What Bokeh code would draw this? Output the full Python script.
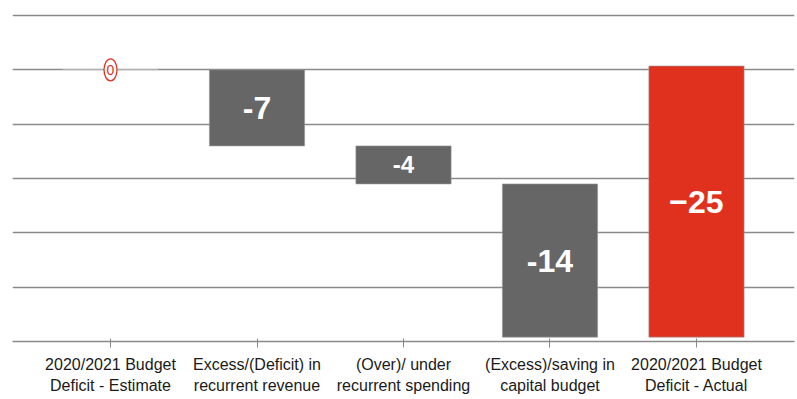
from bokeh.plotting import figure
from bokeh.models import ColumnDataSource, FixedTicker
from bokeh.core.properties import value
from bokeh.embed import file_html
from bokeh.resources import INLINE

categories = [
    "2020/2021 Budget\nDeficit - Estimate",
    "Excess/(Deficit) in\nrecurrent revenue",
    "(Over)/ under\nrecurrent spending",
    "(Excess)/saving in\ncapital budget",
    "2020/2021 Budget\nDeficit - Actual",
]
bar_top = [0, 0, -7, -10.5, 0.35]
bar_bottom = [0, -7, -10.5, -24.6, -24.6]
bar_labels = ["0", "-7", "-4", "-14", "\u221225"]

GRAY = "#666666"
RED = "#E0311F"
FONT = "Liberation Sans"
colors = [None, GRAY, GRAY, GRAY, RED]
label_sizes = ["32px", "32px", "24px", "32px", "32px"]

xs = list(range(len(categories)))

p = figure(width=797, height=399, output_backend="svg", toolbar_location=None,
           x_range=(-0.669, len(categories) - 1 + 0.669), y_range=(-25, 6.38),
           min_border_left=12, min_border_right=3, min_border_top=0,
           min_border_bottom=58)
p.outline_line_color = None
p.yaxis.visible = False
p.xgrid.visible = False
p.ygrid.ticker = FixedTicker(ticks=[5, 0, -5, -10, -15, -20])
p.ygrid.grid_line_color = "#8a8a8a"
p.ygrid.grid_line_width = 1.5

ax = p.xaxis[0]
ax.ticker = FixedTicker(ticks=xs)
ax.major_label_overrides = {i: c for i, c in enumerate(categories)}
ax.major_label_text_font = FONT
ax.major_label_text_font_size = "16px"
ax.major_label_text_color = "#1a1a1a"
ax.major_label_text_line_height = 1.25
ax.major_label_standoff = 8
ax.axis_line_color = "#8a8a8a"
ax.axis_line_width = 1.5
ax.major_tick_line_color = "#8a8a8a"
ax.major_tick_in = 3
ax.major_tick_out = 6
ax.minor_tick_line_color = None

# zero-height first bar
p.segment(x0=[xs[0] - 0.325], x1=[xs[0] + 0.325], y0=[bar_top[0]], y1=[bar_top[0]],
          line_color="#c8c8c8", line_width=1)

bx = xs[1:]
src = ColumnDataSource(dict(x=bx, top=bar_top[1:], bottom=bar_bottom[1:],
                            color=colors[1:],
                            mid=[(t + b) / 2 for t, b in zip(bar_top[1:], bar_bottom[1:])],
                            label=bar_labels[1:], size=label_sizes[1:]))
p.vbar(x="x", top="top", bottom="bottom", width=0.65, source=src,
       fill_color="color", line_color="#9a9a9a", line_width=1, line_alpha=0.6)
p.text(x="x", y="mid", text="label", source=src, text_color="white",
       text_font=value(FONT), text_font_style="bold",
       text_font_size="size", text_align="center", text_baseline="middle")

# zero marker
p.ellipse(x=[xs[0]], y=[bar_top[0]], width=13, height=22, width_units="screen",
          height_units="screen", fill_color="white", line_color=RED, line_width=1.3)
p.text(x=[xs[0]], y=[bar_top[0]], text=[bar_labels[0]], text_color=RED,
       text_font=value(FONT), text_font_size="14px",
       text_align="center", text_baseline="middle")

open("out.html", "w").write(file_html(p, INLINE))
